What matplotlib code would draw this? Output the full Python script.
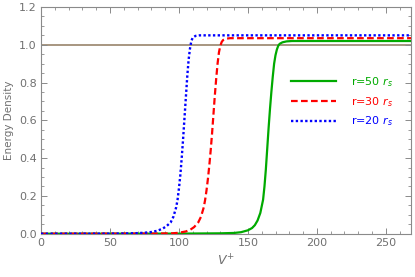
import matplotlib
matplotlib.use("Agg")
import matplotlib.pyplot as plt
from matplotlib.ticker import MultipleLocator, FormatStrFormatter

# ── data ──
v_r50 = [0, 100, 130, 140, 145, 150, 153, 155, 157, 159, 161, 162, 163, 164, 165, 166, 167, 168, 169, 170, 171, 172, 173, 175, 178, 182, 270]
e_r50 = [0, 0.0005, 0.002, 0.004, 0.008, 0.018, 0.03, 0.045, 0.07, 0.11, 0.18, 0.25, 0.34, 0.45, 0.56, 0.66, 0.75, 0.83, 0.9, 0.945, 0.975, 0.995, 1.005, 1.013, 1.018, 1.02, 1.02]

v_r30 = [0, 80, 95, 100, 105, 108, 111, 114, 116, 118, 119, 120, 121, 122, 123, 124, 125, 126, 127, 128, 129, 130, 131, 132, 134, 137, 270]
e_r30 = [0, 0.0005, 0.002, 0.005, 0.012, 0.02, 0.035, 0.06, 0.09, 0.14, 0.18, 0.23, 0.29, 0.36, 0.44, 0.53, 0.63, 0.73, 0.82, 0.9, 0.96, 0.995, 1.015, 1.025, 1.032, 1.035, 1.035]

v_r20 = [0, 50, 60, 70, 75, 80, 84, 88, 91, 94, 96, 98, 99, 100, 101, 102, 103, 104, 105, 106, 107, 108, 109, 110, 112, 115, 270]
e_r20 = [0, 0.0005, 0.001, 0.003, 0.005, 0.009, 0.015, 0.026, 0.04, 0.06, 0.09, 0.14, 0.18, 0.24, 0.31, 0.4, 0.5, 0.61, 0.72, 0.83, 0.92, 0.98, 1.02, 1.038, 1.047, 1.05, 1.05]

ref_level = 1.0

fig = plt.figure(figsize=(4.15, 2.77), dpi=100)
ax = fig.add_axes([0.0988, 0.1563, 0.8908, 0.8184])

ax.axhline(ref_level, color="#A08E76", lw=1.3, zorder=1)
ax.plot(v_r50, e_r50, color="#00AA00", lw=1.6, label=r"r=50 $r_s$", zorder=3)
ax.plot(v_r30, e_r30, color="#FF0000", lw=1.6, ls=(0, (3, 1.5)), label=r"r=30 $r_s$", zorder=3)
ax.plot(v_r20, e_r20, color="#0000FF", lw=1.7, ls=(0, (1, 1)), label=r"r=20 $r_s$", zorder=3)

ax.set_xlim(0, 268)
ax.set_ylim(0, 1.2)
ax.xaxis.set_major_locator(MultipleLocator(50))
ax.xaxis.set_minor_locator(MultipleLocator(10))
ax.yaxis.set_major_locator(MultipleLocator(0.2))
ax.yaxis.set_minor_locator(MultipleLocator(0.05))
ax.yaxis.set_major_formatter(FormatStrFormatter("%.1f"))

gray = "#8a8a8a"
ax.tick_params(which="both", direction="in", top=True, right=True, color=gray,
               labelcolor="#707070", labelsize=8, pad=3)
ax.tick_params(which="major", length=4, width=0.7)
ax.tick_params(which="minor", length=2.2, width=0.6)
for s in ax.spines.values():
    s.set_edgecolor(gray)
    s.set_linewidth(0.8)

ax.set_xlabel(r"$V^{+}$", color="#707070", fontsize=9, labelpad=4)
ax.set_ylabel("Energy Density", color="#707070", fontsize=7.5, labelpad=4)

leg = ax.legend(loc="upper right", bbox_to_anchor=(0.98, 0.745), frameon=False,
                fontsize=8, handlelength=4.0, handletextpad=1.4, labelspacing=0.55,
                labelcolor="linecolor")

fig.savefig("out.png", dpi=100)
